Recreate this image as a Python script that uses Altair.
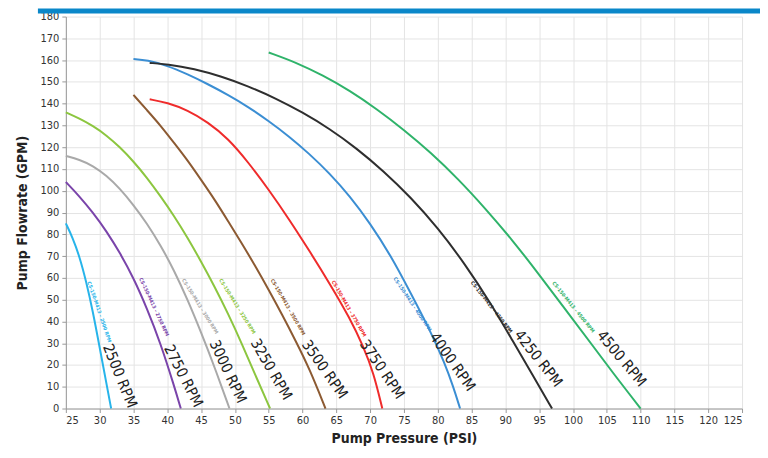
import altair as alt
import pandas as pd

rpm = ["2500", "2750", "3000", "3250", "3500", "3750", "4000", "4250", "4500"]
colors = ["#27b4ea", "#7a44aa", "#a9a9a9", "#8cc63f", "#8c5a32", "#ef2b2b", "#3b8ed3", "#2e2e2e", "#2fb36a"]

x_2500 = [25, 26, 27, 28, 29, 30, 31, 31.7]
y_2500 = [85, 78.5, 70, 58.5, 44.5, 28, 11.5, 0]
x_2750 = [25, 27, 29, 31, 33, 35, 37, 39, 41, 42]
y_2750 = [104, 97.5, 90, 81.5, 71.5, 60, 46, 30, 10.5, 0]
x_3000 = [25, 27, 29, 31, 33, 35, 37, 39, 41, 43, 45, 47, 49.2]
y_3000 = [116, 114.3, 111.5, 107, 101, 93.5, 85, 75, 63.5, 50, 35, 19, 0]
x_3250 = [25, 27, 29, 31, 33, 35, 37, 39, 41, 43, 45, 47, 49, 51, 53, 55.2]
y_3250 = [136, 133.2, 129.8, 125.5, 120, 113.5, 106, 97.5, 88.5, 78.5, 67.5, 56, 43.5, 30, 15.5, 0]
x_3500 = [35, 37, 39, 41, 43, 45, 47, 49, 51, 53, 55, 57, 59, 61, 63.4]
y_3500 = [144, 137, 130, 122, 114, 105, 96, 86, 76, 65.5, 54.5, 43, 31, 18.5, 0]
x_3750 = [37.4, 40, 43, 46, 49, 52, 55, 58, 61, 64, 67, 69, 70.5, 71.8]
y_3750 = [142, 140.5, 137, 131.5, 124, 113, 100.5, 87, 72.5, 57.5, 41.5, 28.5, 16.5, 0]
x_4000 = [35, 37, 40, 43, 46, 49, 52, 55, 58, 61, 64, 67, 70, 73, 76, 79, 81, 82.3, 83.3]
y_4000 = [160.5, 160, 157.5, 153.5, 149, 144, 138.5, 132, 125, 117, 108, 97.5, 85, 70.5, 53, 35, 21, 10, 0]
x_4250 = [37.4, 40, 44, 48, 52, 56, 60, 64, 68, 72, 76, 80, 84, 88, 91, 94, 96.9]
y_4250 = [158.7, 158.2, 156, 152.5, 148, 142.5, 136, 128.5, 119.5, 109, 97, 83, 66.5, 47.5, 31.5, 15.5, 0]
x_4500 = [55, 59, 63, 67, 71, 75, 79, 83, 87, 91, 95, 99, 103, 106, 108.5, 110]
y_4500 = [163.5, 159, 153, 146, 137.5, 128, 117.5, 105.5, 92, 77.5, 61.5, 45, 28.5, 16, 6, 0]

big_x = [33, 42.4, 49, 55.4, 63.3, 71.8, 82.2, 94.9, 107.2]
big_y = [15, 15, 17, 18, 18, 18, 21.5, 23, 23]
big_angle = [68, 63, 65, 60, 55, 56, 55, 52, 50]

small_x = [30, 38.1, 44.9, 50.4, 57.9, 66.9, 76.3, 88, 100.1]
small_y = [44.4, 46.7, 47, 47, 46.7, 46, 48, 46.7, 46.7]
small_angle = [71, 65, 58, 58, 60, 60, 56, 52, 51]

x_ticks = list(range(25, 126, 5))
y_ticks = list(range(0, 181, 10))

curves_x = [x_2500, x_2750, x_3000, x_3250, x_3500, x_3750, x_4000, x_4250, x_4500]
curves_y = [y_2500, y_2750, y_3000, y_3250, y_3500, y_3750, y_4000, y_4250, y_4500]

rows = []
for r, xs, ys in zip(rpm, curves_x, curves_y):
    for i, (a, b) in enumerate(zip(xs, ys)):
        rows.append({"rpm": r, "psi": a, "gpm": b, "order": i})
curves = pd.DataFrame(rows)

big = pd.DataFrame({"rpm": rpm, "psi": big_x, "gpm": big_y, "angle": big_angle,
                    "label": [r + " RPM" for r in rpm]})
small = pd.DataFrame({"rpm": rpm, "psi": small_x, "gpm": small_y, "angle": small_angle,
                      "label": ["CS-150-M413 \u2013 " + r + " RPM" for r in rpm]})

FONT = "DejaVu Sans Condensed, Liberation Sans Narrow, sans-serif"

xscale = alt.Scale(domain=[25, 125], nice=False, zero=False)
yscale = alt.Scale(domain=[0, 180], nice=False)
cscale = alt.Scale(domain=rpm, range=colors)
xaxis = alt.Axis(values=x_ticks, title="Pump Pressure (PSI)", grid=True, labelOverlap=False)
yaxis = alt.Axis(values=y_ticks, title="Pump Flowrate (GPM)", grid=True, labelOverlap=False)

X = alt.X("psi:Q", scale=xscale, axis=xaxis)
Y = alt.Y("gpm:Q", scale=yscale, axis=yaxis)

lines = alt.Chart(curves).mark_line(strokeWidth=2, interpolate="basis").encode(
    x=X, y=Y,
    color=alt.Color("rpm:N", scale=cscale, legend=None),
    detail="rpm:N",
    order="order:Q",
)

big_text = alt.Chart(big).mark_text(fontSize=15, font=FONT, color="#222222",
                                    align="center", baseline="middle").encode(
    x=X, y=Y,
    angle=alt.Angle("angle:Q", scale=None),
    text="label:N",
)

small_text = alt.Chart(small).mark_text(fontSize=5, font=FONT, fontWeight="bold",
                                        align="center", baseline="middle").encode(
    x=X, y=Y,
    angle=alt.Angle("angle:Q", scale=None),
    color=alt.Color("rpm:N", scale=cscale, legend=None),
    text="label:N",
)

bar = alt.Chart(pd.DataFrame({"a": [0]})).mark_rect(color="#0a87c9").encode(
    x=alt.value(-28), x2=alt.value(696), y=alt.value(-8), y2=alt.value(-3)
)

chart = alt.layer(lines, small_text, big_text, bar).properties(
    width=678, height=393,
    autosize=alt.AutoSizeParams(type="none"),
    padding={"left": 58, "top": 8, "right": 18, "bottom": 41},
).configure_view(stroke=None).configure_axis(
    labelFont=FONT, labelFontSize=11, labelColor="#333333", labelOverlap=False,
    titleFont=FONT, titleFontSize=14, titleFontWeight="bold", titleColor="#222222",
    gridColor="#e4e4e4", gridWidth=1, domainColor="#9a9a9a", tickColor="#9a9a9a",
    tickSize=4,
).configure_axisX(titlePadding=6, labelPadding=2).configure_axisY(titlePadding=11, labelPadding=3)

chart.save("out.html", embed_options={"renderer": "svg", "actions": False})
